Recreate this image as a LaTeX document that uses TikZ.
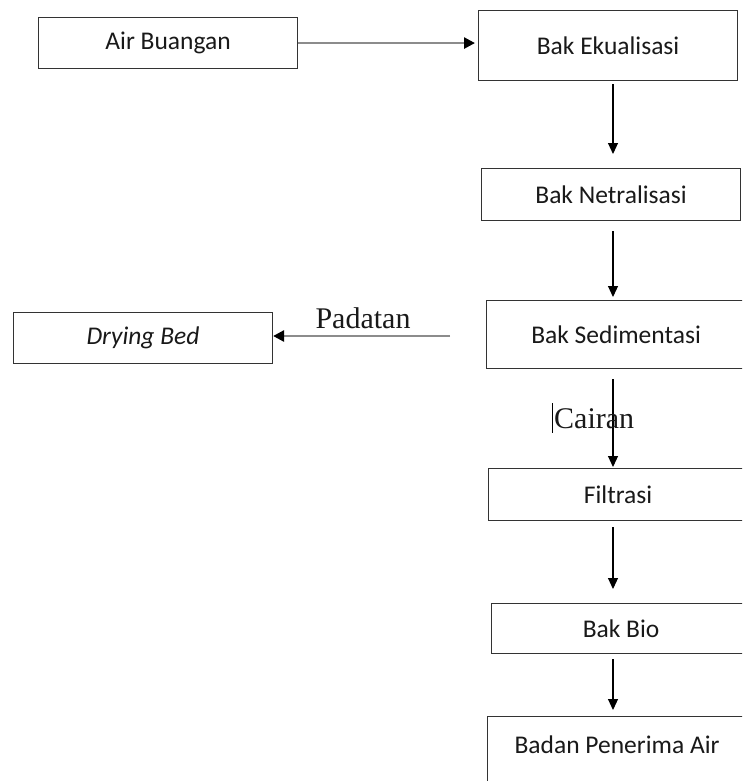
\documentclass[tikz,border=0pt]{standalone}
\usepackage{fontspec}
\setmainfont{Carlito}
\newfontfamily\serifl{Liberation Serif}
\usetikzlibrary{arrows.meta}
\begin{document}
\begin{tikzpicture}[x=1pt,y=-1pt,
 box/.style={draw=black!80, line width=1.1pt, rectangle, anchor=north west, minimum width=259pt, inner sep=0pt, font=\fontsize{25.5}{30}\selectfont, text=black!90},
 vflow/.style={draw=black, line width=1.1pt, -{Triangle[length=11pt,width=10pt]}},
 hflow/.style={draw=black!45, line width=2.6pt, -{Triangle[length=11pt,width=11pt,color=black]}},
 lbl/.style={font=\serifl\fontsize{30}{34}\selectfont, inner sep=0pt, text=black!90}]
\useasboundingbox (0,0) rectangle (742,781);
\clip (0,0) rectangle (742,781);
\fill[white] (0,0) rectangle (742,781);
\coordinate (col) at (613,0);
\node[box, minimum height=51pt] (air) at (38,17) {Air Buangan};
\node[box, minimum height=70pt] (eku) at (478,10) {Bak Ekualisasi};
\node[box, minimum height=52pt] (net) at (481,168) {Bak Netralisasi};
\node[box, minimum height=68pt] (sed) at (486,300) {Bak Sedimentasi};
\node[box, minimum height=51pt] (dry) at (13,312) {\itshape Drying Bed};
\node[box, minimum height=52pt] (fil) at (488,468) {Filtrasi};
\node[box, minimum height=50pt] (bio) at (491,603) {Bak Bio};
\node[box, text height=37pt, text depth=60pt] (bad) at (487,716) {Badan Penerima Air};
\draw[hflow, shorten >=3pt] (air.east) -- (eku.west |- air.east);
\draw[vflow, shorten <=3pt, shorten >=14pt] (eku.south -| col) -- (net.north -| col);
\draw[vflow, shorten <=10pt, shorten >=3pt] (net.south -| col) -- (sed.north -| col);
\draw[vflow, shorten <=10pt, shorten >=1pt] (sed.south -| col) -- (fil.north -| col);
\draw[vflow, shorten <=6pt, shorten >=14pt] (fil.south -| col) -- (bio.north -| col);
\draw[vflow, shorten <=5pt, shorten >=6pt] (bio.south -| col) -- (bad.north -| col);
\coordinate (padsrc) at (450,336);
\draw[hflow] (padsrc) -- (padsrc -| dry.east);
\node[lbl, anchor=base] (padlbl) at (363,328) {Padatan};
\node[lbl, anchor=base west] (cairlbl) at (554,428) {Cairan};
\draw[line width=1pt] (552,403) -- (552,433);
\end{tikzpicture}
\end{document}
